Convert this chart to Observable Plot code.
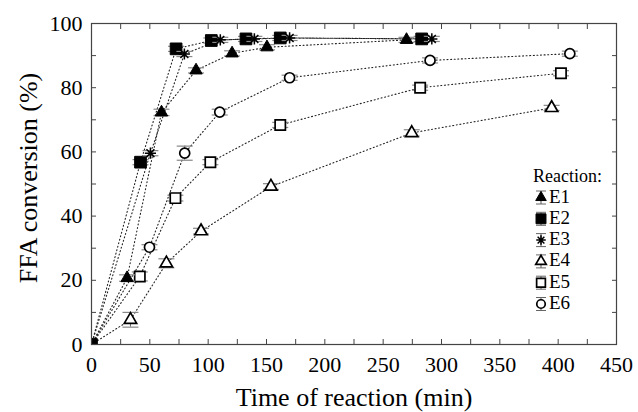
<!DOCTYPE html>
<html>
<head>
<meta charset="utf-8">
<script src="https://cdn.jsdelivr.net/npm/d3@7"></script>
<script src="https://cdn.jsdelivr.net/npm/@observablehq/plot@0.6"></script>
<style>
  html, body { margin: 0; padding: 0; background: #fff; }
  #chart svg { display: block; }
  #chart svg, #chart svg text { font-family: "Liberation Serif", "Times New Roman", Tinos, serif !important; }
</style>
</head>
<body>
<div id="chart"></div>
<script>
// ---- data ----
const seriesNames = ["E1", "E2", "E3", "E4", "E5", "E6"];
const e1Time = [0, 30.5, 60, 89.6, 120.5, 150.4, 270];
const e1Conv = [0, 20.7, 72.3, 85.4, 90.7, 92.6, 94.9];
const e1Err  = [0, 1.0, 1.0, 0.8, 0.8, 0.8, 0.8];
const e2Time = [0, 42, 72.5, 102.7, 132.4, 161.8, 283];
const e2Conv = [0, 56.8, 92.1, 94.7, 95.2, 95.5, 95.2];
const e2Err  = [0, 0.8, 0.8, 0.8, 0.8, 0.8, 0.8];
const e3Time = [0, 50.5, 79.6, 110.4, 139.6, 169.8, 291.7];
const e3Conv = [0, 59.6, 90.5, 94.9, 95.2, 95.5, 95.2];
const e3Err  = [0, 0.8, 0.8, 0.8, 0.8, 0.8, 0.8];
const e4Time = [0, 33.4, 64.2, 93.9, 153.8, 274.5, 394.4];
const e4Conv = [0, 7.7, 25.3, 35.3, 49.2, 65.9, 73.7];
const e4Err  = [0, 2.3, 1.4, 0.9, 0.9, 1.0, 0.8];
const e5Time = [0, 41.4, 71.9, 101.9, 161.8, 281.7, 402.4];
const e5Conv = [0, 21.2, 45.6, 56.8, 68.4, 80.0, 84.5];
const e5Err  = [0, 1.4, 0.9, 0.8, 0.8, 0.8, 0.8];
const e6Time = [0, 49.7, 79.9, 109.9, 169.8, 290.2, 410];
const e6Conv = [0, 30.3, 59.6, 72.4, 83.1, 88.5, 90.6];
const e6Err  = [0, 0.8, 2.2, 0.9, 0.8, 0.8, 0.8];
const xTickLabels = [0, 50, 100, 150, 200, 250, 300, 350, 400, 450];
const yTickLabels = [0, 20, 40, 60, 80, 100];
const xTickMinor = d3.range(0, 451, 25);
const yTickMinor = d3.range(0, 101, 10);

// ---- symbols ----
const asterisk8 = {
  draw(ctx, size) {
    const r = Math.sqrt(size) * 0.62;
    const d = r * Math.SQRT1_2;
    ctx.moveTo(-r, 0); ctx.lineTo(r, 0);
    ctx.moveTo(0, -r); ctx.lineTo(0, r);
    ctx.moveTo(-d, -d); ctx.lineTo(d, d);
    ctx.moveTo(-d, d); ctx.lineTo(d, -d);
  }
};
const capSym = {
  draw(ctx, size) {
    const w = 8;
    ctx.moveTo(-w, 0); ctx.lineTo(w, 0);
  }
};
const styles = [
  {symbol: "triangle", fill: "black", stroke: "black", r: 4.6, sw: 1},
  {symbol: "square", fill: "black", stroke: "black", r: 6.6, sw: 1},
  {symbol: asterisk8, fill: "none", stroke: "black", r: 5.1, sw: 1.5},
  {symbol: "triangle", fill: "white", stroke: "black", r: 4.6, sw: 1.7},
  {symbol: "square", fill: "white", stroke: "black", r: 5.8, sw: 1.7},
  {symbol: "circle", fill: "white", stroke: "black", r: 5.0, sw: 1.7}
];

const times = [e1Time, e2Time, e3Time, e4Time, e5Time, e6Time];
const convs = [e1Conv, e2Conv, e3Conv, e4Conv, e5Conv, e6Conv];
const errs  = [e1Err, e2Err, e3Err, e4Err, e5Err, e6Err];
const series = seriesNames.map((name, k) =>
  times[k].map((t, i) => ({name, time: t, conv: convs[k][i], err: errs[k][i]})));

const font = "'Liberation Serif', 'Times New Roman', Tinos, serif";

const marks = [];
// lines
series.forEach(s => marks.push(Plot.line(s, {x: "time", y: "conv", stroke: "#222",
  strokeWidth: 1.1, strokeDasharray: "1,2.6", clip: true})));
// error bars + markers (open series first, filled on top)
[3, 4, 5, 0, 1, 2].forEach(k => {
  const st = styles[k];
  const pts = series[k].filter(d => d.time > 0 || st.fill === "black");
  const errPts = series[k].filter(d => d.time > 0);
  marks.push(Plot.ruleX(errPts, {x: "time", y1: d => d.conv - d.err, y2: d => d.conv + d.err, stroke: "#666", strokeWidth: 1}));
  marks.push(Plot.dot(errPts, {x: "time", y: d => d.conv - d.err, symbol: capSym, stroke: "#888", strokeWidth: 1.2, r: 3}));
  marks.push(Plot.dot(errPts, {x: "time", y: d => d.conv + d.err, symbol: capSym, stroke: "#888", strokeWidth: 1.2, r: 3}));
  marks.push(Plot.dot(pts, {x: "time", y: "conv", symbol: st.symbol, fill: st.fill,
    stroke: st.stroke, strokeWidth: st.sw, r: st.r, clip: true}));
});
// frame & axes
marks.push(Plot.frame({stroke: "#444", strokeWidth: 1.2}));
marks.push(Plot.axisX(xTickMinor, {anchor: "bottom", tickSize: -5, tickFormat: () => "", label: null, stroke: "#444"}));
marks.push(Plot.axisX(xTickMinor, {anchor: "top", tickSize: -5, tickFormat: () => "", label: null, stroke: "#444"}));
marks.push(Plot.axisY(yTickMinor, {anchor: "left", tickSize: -5, tickFormat: () => "", label: null, stroke: "#444"}));
marks.push(Plot.axisY(yTickMinor, {anchor: "right", tickSize: -5, tickFormat: () => "", label: null, stroke: "#444"}));
marks.push(Plot.axisX(xTickLabels, {anchor: "bottom", tickSize: 0, tickPadding: 12, fontSize: 22, fill: "black", label: null}));
marks.push(Plot.axisY(yTickLabels, {anchor: "left", tickSize: 0, tickPadding: 9, fontSize: 22, fill: "black", label: null}));

const chart = Plot.plot({
  width: 638,
  height: 412,
  marginLeft: 91,
  marginRight: 22,
  marginTop: 23,
  marginBottom: 68,
  style: {fontFamily: font, background: "white", color: "black"},
  x: {domain: [0, 450], label: null},
  y: {domain: [0, 100], label: null},
  marks
});

// axis titles and legend
const svg = d3.select(chart);
svg.append("text").attr("x", 354).attr("y", 406).attr("text-anchor", "middle")
  .attr("font-family", font).attr("font-size", 26).attr("fill", "black")
  .text("Time of reaction (min)");
svg.append("text").attr("transform", "translate(37,178) rotate(-90)").attr("text-anchor", "middle")
  .attr("font-family", font).attr("font-size", 26).attr("fill", "black")
  .text("FFA conversion (%)");

const lg = svg.append("g").attr("font-family", font).attr("fill", "black").attr("text-anchor", "start");
lg.append("text").attr("x", 533).attr("y", 182).attr("font-size", 18).attr("text-anchor", "start").text("Reaction:");
seriesNames.forEach((name, k) => {
  const st = styles[k];
  const cy = 197.5 + k * 21.3;
  const cx = 541;
  const g = lg.append("g").attr("transform", `translate(${cx},${cy})`);
  g.append("line").attr("x1", 0).attr("x2", 0).attr("y1", -6.5).attr("y2", 6.5).attr("stroke", "#555").attr("stroke-width", 1);
  g.append("line").attr("x1", -5).attr("x2", 5).attr("y1", -6.5).attr("y2", -6.5).attr("stroke", "#666").attr("stroke-width", 1);
  g.append("line").attr("x1", -5).attr("x2", 5).attr("y1", 6.5).attr("y2", 6.5).attr("stroke", "#666").attr("stroke-width", 1);
  const symType = typeof st.symbol === "string"
    ? {triangle: d3.symbolTriangle, square: d3.symbolSquare, circle: d3.symbolCircle}[st.symbol]
    : st.symbol;
  const rr = st.r * 0.85;
  g.append("path").attr("d", d3.symbol(symType, Math.PI * rr * rr)())
    .attr("fill", st.fill).attr("stroke", st.stroke).attr("stroke-width", st.sw);
  lg.append("text").attr("x", 549).attr("y", cy + 5).attr("font-size", 19).attr("text-anchor", "start").text(name);
});

document.getElementById("chart").appendChild(chart);
</script>
</body>
</html>
